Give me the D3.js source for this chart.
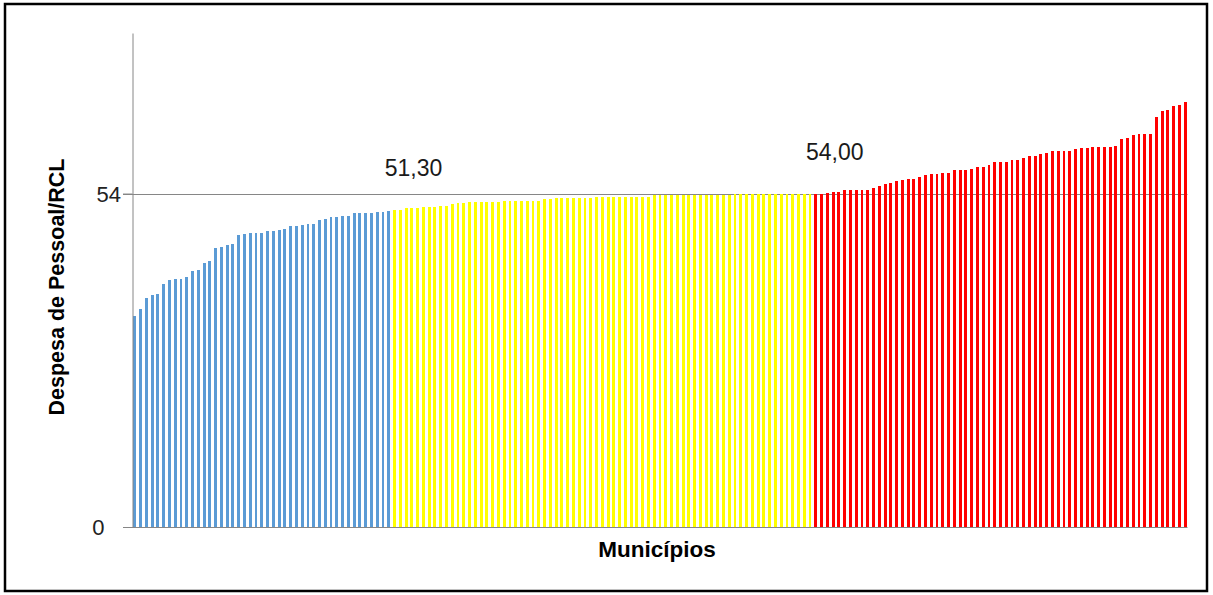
<!DOCTYPE html>
<html>
<head>
<meta charset="utf-8">
<script src="https://d3js.org/d3.v7.min.js"></script>
<style>
  body { margin: 0; background: #fff; }
  text { font-family: "Liberation Sans", Arial, sans-serif; }
</style>
</head>
<body>
<div id="chart-root"></div>
<script>
// values, sorted, one bar per municipio
var blueValues = [34.16, 35.3, 37.1, 37.57, 37.73, 39.3, 40.0, 40.15, 40.15, 40.5,
  41.4, 41.6, 42.7, 43.06, 45.16, 45.3, 45.6, 45.8, 47.26, 47.4,
  47.58, 47.58, 47.58, 47.9, 47.9, 48.07, 48.23, 48.7, 48.7, 48.88,
  49.04, 49.04, 49.68, 49.85, 50.17, 50.17, 50.33, 50.33, 50.82, 50.82,
  50.82, 50.82, 50.98, 50.98, 51.14];
var yellowValues = [51.3, 51.3, 51.63, 51.63, 51.63, 51.79, 51.79, 51.79, 51.95, 51.95,
  52.27, 52.44, 52.44, 52.6, 52.6, 52.6, 52.6, 52.6, 52.6, 52.76,
  52.76, 52.76, 52.76, 52.76, 52.76, 52.76, 53.1, 53.1, 53.25, 53.25,
  53.25, 53.25, 53.25, 53.25, 53.25, 53.4, 53.4, 53.4, 53.4, 53.4,
  53.4, 53.4, 53.4, 53.4, 53.4, 53.73, 53.73, 53.73, 53.73, 53.73,
  53.73, 53.73, 53.73, 53.73, 53.73, 53.73, 53.73, 53.73, 53.73, 53.89,
  53.89, 53.89, 53.89, 53.89, 53.89, 53.89, 53.89, 53.89, 53.89, 53.89,
  53.89, 53.89, 53.89];
var redValues = [54.0, 54.0, 54.1, 54.2, 54.2, 54.65, 54.65, 54.65, 54.65, 54.65,
  54.97, 55.3, 55.5, 55.7, 56.0, 56.15, 56.3, 56.3, 56.75, 56.96,
  57.17, 57.17, 57.4, 57.4, 57.77, 57.77, 57.77, 57.93, 58.25, 58.25,
  58.58, 59.06, 59.06, 59.06, 59.39, 59.39, 59.71, 60.04, 60.04, 60.36,
  60.52, 60.85, 60.85, 60.85, 60.85, 61.17, 61.33, 61.33, 61.49, 61.49,
  61.49, 61.49, 61.65, 62.78, 62.94, 63.43, 63.59, 63.59, 63.59, 66.34,
  67.31, 67.47, 68.12, 68.28, 68.77];

var groupColors = ["#5b9bd5", "#ffff00", "#ff0000"];
var tickValues = [0, 54];
var limitValues = [51.3, 54.0];
var limitLabels = ["51,30", "54,00"];

(function () {
  var width = 1213, height = 595;
  var margin = { top: 33, left: 132.5, right: 25.5, bottom: 68 };

  var svg = d3.select("#chart-root")
    .append("svg")
      .attr("width", width)
      .attr("height", height);

  // black frame round the whole thing
  svg.append("rect")
    .attr("x", 5).attr("y", 4)
    .attr("width", 1202).attr("height", 587)
    .attr("fill", "none")
    .attr("stroke", "#000")
    .attr("stroke-width", 2.5);

  // flatten the three groups, keep the group index for the colour
  var data = [];
  [blueValues, yellowValues, redValues].forEach(function (arr, g) {
    arr.forEach(function (v) { data.push({ i: data.length, v: v, g: g }); });
  });

  var x = d3.scaleBand()
    .domain(data.map(function (d) { return d.i; }))
    .range([margin.left, width - margin.right])
    .paddingInner(0.5)
    .paddingOuter(0.15);

  var y = d3.scaleLinear()
    .domain([0, 80])
    .range([height - margin.bottom, margin.top]);

  // gridline at 54 (runs over the tick too)
  svg.append("g")
    .selectAll("line")
    .data(tickValues.filter(function (t) { return t > 0; }))
    .enter().append("line")
      .attr("x1", margin.left - 9.5)
      .attr("x2", width - margin.right)
      .attr("y1", function (d) { return Math.round(y(d)) + 0.5; })
      .attr("y2", function (d) { return Math.round(y(d)) + 0.5; })
      .attr("stroke", "#868686")
      .attr("stroke-width", 1);

  // bars, crisp like the excel export
  svg.append("g")
    .attr("shape-rendering", "crispEdges")
    .selectAll("rect")
    .data(data)
    .enter().append("rect")
      .attr("x", function (d) { return x(d.i); })
      .attr("width", x.bandwidth())
      .attr("y", function (d) { return y(d.v); })
      .attr("height", function (d) { return y(0) - y(d.v); })
      .attr("fill", function (d) { return groupColors[d.g]; });

  // y axis, only 0 and 54
  var yAxis = svg.append("g")
    .attr("transform", "translate(" + margin.left + ",0)")
    .call(d3.axisLeft(y).tickValues(tickValues).tickSize(9.5).tickSizeOuter(0));
  yAxis.select(".domain").attr("stroke", "#868686");
  yAxis.selectAll(".tick line").attr("stroke", "#868686");
  yAxis.selectAll(".tick text")
    .attr("x", function (d) { return d === 0 ? -28 : -11.5; })
    .attr("dy", "0.36em")
    .attr("fill", "#222")
    .style("font-size", "22px");

  // x axis line
  svg.append("line")
    .attr("x1", margin.left - 9.5)
    .attr("x2", width - margin.right)
    .attr("y1", y(0) + 0.5)
    .attr("y2", y(0) + 0.5)
    .attr("stroke", "#868686");

  // labels over where each colour group starts
  svg.append("g")
    .selectAll("text")
    .data(limitValues)
    .enter().append("text")
      .attr("x", function (d, k) {
        var first = data.find(function (b) { return b.g === k + 1; });
        return x(first.i) + x.bandwidth() / 2 + 19;
      })
      .attr("y", function (d) { return y(d) - 34; })
      .attr("text-anchor", "middle")
      .attr("fill", "#1a1a1a")
      .style("font-size", "23px")
      .text(function (d, k) { return limitLabels[k]; });

  // axis titles
  svg.append("text")
    .attr("transform", "translate(64,287) rotate(-90)")
    .attr("text-anchor", "middle")
    .style("font-size", "21.5px")
    .style("font-weight", "bold")
    .text("Despesa de Pessoal/RCL");

  svg.append("text")
    .attr("x", 657)
    .attr("y", 557)
    .attr("text-anchor", "middle")
    .style("font-size", "22.5px")
    .style("font-weight", "bold")
    .text("Municípios");
})();
</script>
</body>
</html>
